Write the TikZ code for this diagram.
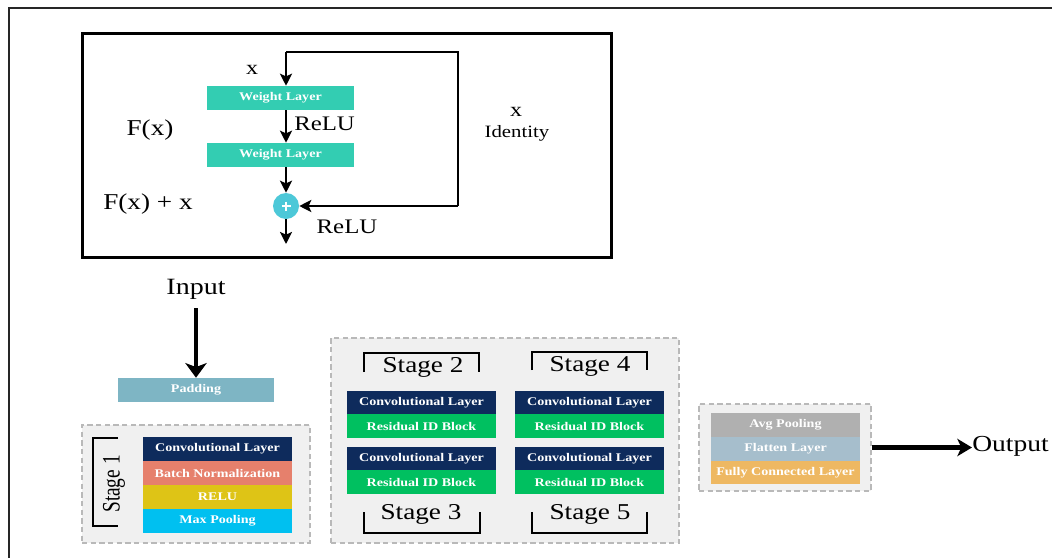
\documentclass[tikz,border=0pt]{standalone}
\usepackage{fontspec}
\usepackage{graphicx}
\setmainfont{Liberation Serif}[FakeStretch=1.2]
\newfontfamily\plainfont{Liberation Serif}
\usetikzlibrary{arrows.meta,positioning,calc}
\definecolor{wlteal}{RGB}{51,205,178}
\definecolor{plusc}{RGB}{77,200,216}
\definecolor{padc}{RGB}{126,181,196}
\definecolor{navyc}{RGB}{14,43,92}
\definecolor{salmonc}{RGB}{230,128,108}
\definecolor{goldc}{RGB}{222,196,22}
\definecolor{cyanc}{RGB}{0,192,240}
\definecolor{greenc}{RGB}{0,192,96}
\definecolor{avgc}{RGB}{176,176,176}
\definecolor{flatc}{RGB}{166,190,204}
\definecolor{fcc}{RGB}{238,184,98}
\definecolor{dboxfill}{RGB}{240,240,240}
\definecolor{dboxline}{RGB}{185,185,185}
\begin{document}
\begin{tikzpicture}[x=0.75pt,y=-0.75pt,
  layer/.style={minimum width=111.75pt,minimum height=17.8pt,inner sep=0pt,text=white,font=\fontsize{8.8}{10}\selectfont\bfseries},
  wlayer/.style={layer,fill=wlteal,minimum width=110.25pt,minimum height=18pt},
  dbox/.style={draw=dboxline,fill=dboxfill,dashed,line width=1.1pt,dash pattern=on 4pt off 2.5pt},
  lbl/.style={inner sep=0pt,font=\fontsize{17}{20}\selectfont},
  arr/.style={line width=2.1pt,-{Stealth[length=9pt,width=9pt,inset=2pt]}},
  bracket/.style={line width=1.9pt},
  bigarr/.style={line width=3.6pt,-{Stealth[length=11pt,width=16pt,inset=3pt]}},
]
\useasboundingbox (0,0) rectangle (1052,557);
% outer frame
\draw[line width=1.2pt,black!85] (9,560) -- (9,8) -- (1055,8);

% ---------- residual block ----------
\draw[line width=2.25pt] (82,33) rectangle (611,257);
\node[wlayer] (wl1) at (280.5,98) {Weight Layer};
\node[wlayer] (wl2) at (280.5,155) {Weight Layer};
\node[circle,fill=plusc,minimum size=19.5pt,inner sep=0pt] (plus) at (286,206) {};
\draw[white,line width=1.8pt] ($(plus)+(-4.5,0)$) -- ($(plus)+(4.5,0)$);
\draw[white,line width=1.8pt] ($(plus)+(0,-4.5)$) -- ($(plus)+(0,4.5)$);
\coordinate (top) at (286,52);
\coordinate (skipt) at (458,52);
\coordinate (skipb) at (458,206);
\coordinate (outp) at (286,244);
\draw[arr] (top) -- (top |- wl1.north);
\draw[arr] (top |- wl1.south) -- (top |- wl2.north);
\draw[arr] (top |- wl2.south) -- (plus.north);
\draw[line width=2.1pt,line join=miter] (top) -- (skipt) -- (skipb);
\draw[arr] (skipb) -- (plus.east);
\draw[arr] (plus.south) -- (outp);
\node[lbl,font=\fontsize{15}{18}\selectfont] (lx) at (252,70) {x};
\node[lbl,font=\fontsize{15.5}{18}\selectfont,anchor=west] (relu1) at (294,124) {ReLU};
\node[lbl] (fx) at (150,130) {F(x)};
\node[lbl,font=\fontsize{15}{18}\selectfont] (ix) at (516,112) {x};
\node[lbl,font=\fontsize{13}{16}\selectfont] (ident) at (517,133) {Identity};
\node[lbl] (fxx) at (148,204) {F(x) + x};
\node[lbl,font=\fontsize{15.5}{18}\selectfont] (relu2) at (347,227) {ReLU};

% ---------- input / padding ----------
\node[lbl,font=\fontsize{17.5}{20}\selectfont] (input) at (196,289) {Input};
\node[layer,fill=padc,minimum width=117pt,minimum height=18pt] (pad) at (196,390) {Padding};
\draw[bigarr] (196,308) -- (pad.north);

% ---------- stage 1 ----------
\node[dbox,minimum width=171pt,minimum height=88.5pt,inner sep=0pt] (s1box) at (196,484) {};
\node[layer,fill=navyc,minimum height=18pt] (s1a) at (217.5,449) {Convolutional Layer};
\node[layer,fill=salmonc,minimum height=18pt] (s1b) at (217.5,473) {Batch Normalization};
\node[layer,fill=goldc,minimum height=18pt] (s1c) at (217.5,497) {RELU};
\node[layer,fill=cyanc,minimum height=18pt] (s1d) at (217.5,521) {Max Pooling};
\draw[bracket] (118,438) -- (93,438) -- (93,526) -- (118,526);
\node[rotate=90,inner sep=0pt] (st1) at (114,484) {\scalebox{1}[1.3]{\plainfont\fontsize{14.5}{17}\selectfont Stage 1}};

% ---------- stages 2-5 ----------
\node[dbox,minimum width=261pt,minimum height=153.75pt,inner sep=0pt] (sbox) at (505,440.5) {};
\foreach \cx/\nm in {421.5/L,589.5/R}{
  \node[layer,fill=navyc,minimum height=17.6pt] (c1\nm) at (\cx,402.5) {Convolutional Layer};
  \node[layer,fill=greenc,minimum height=17.6pt] (r1\nm) at (\cx,426) {Residual ID Block};
  \node[layer,fill=navyc,minimum height=17.6pt] (c2\nm) at (\cx,458.5) {Convolutional Layer};
  \node[layer,fill=greenc,minimum height=17.6pt] (r2\nm) at (\cx,482) {Residual ID Block};
}
\draw[bracket] (364,372) -- (364,353) -- (479,353) -- (479,372);
\node[lbl] (st2) at (423,367) {Stage 2};
\draw[bracket] (532,370) -- (532,352) -- (647,352) -- (647,370);
\node[lbl] (st4) at (590,366) {Stage 4};
\draw[bracket] (364,512) -- (364,533) -- (480,533) -- (480,512);
\node[lbl] (st3) at (421,514) {Stage 3};
\draw[bracket] (532,512) -- (532,533) -- (647,533) -- (647,512);
\node[lbl] (st5) at (590,514) {Stage 5};

% ---------- head ----------
\node[dbox,minimum width=129pt,minimum height=65.25pt,inner sep=0pt] (hbox) at (785,447.5) {};
\node[layer,fill=avgc,minimum height=18pt] (avg) at (785.5,425) {Avg Pooling};
\node[layer,fill=flatc,minimum height=17.6pt] (flat) at (785.5,449) {Flatten Layer};
\node[layer,fill=fcc,minimum height=17.6pt] (fc) at (785.5,472.5) {Fully Connected Layer};
\node[lbl,font=\fontsize{17.2}{20}\selectfont,anchor=west] (output) at (972,446) {Output};
\draw[line width=3.2pt,-{Stealth[length=11pt,width=13pt,inset=3pt]}] (hbox.east) -- (output.west |- hbox.east);
\end{tikzpicture}
\end{document}
